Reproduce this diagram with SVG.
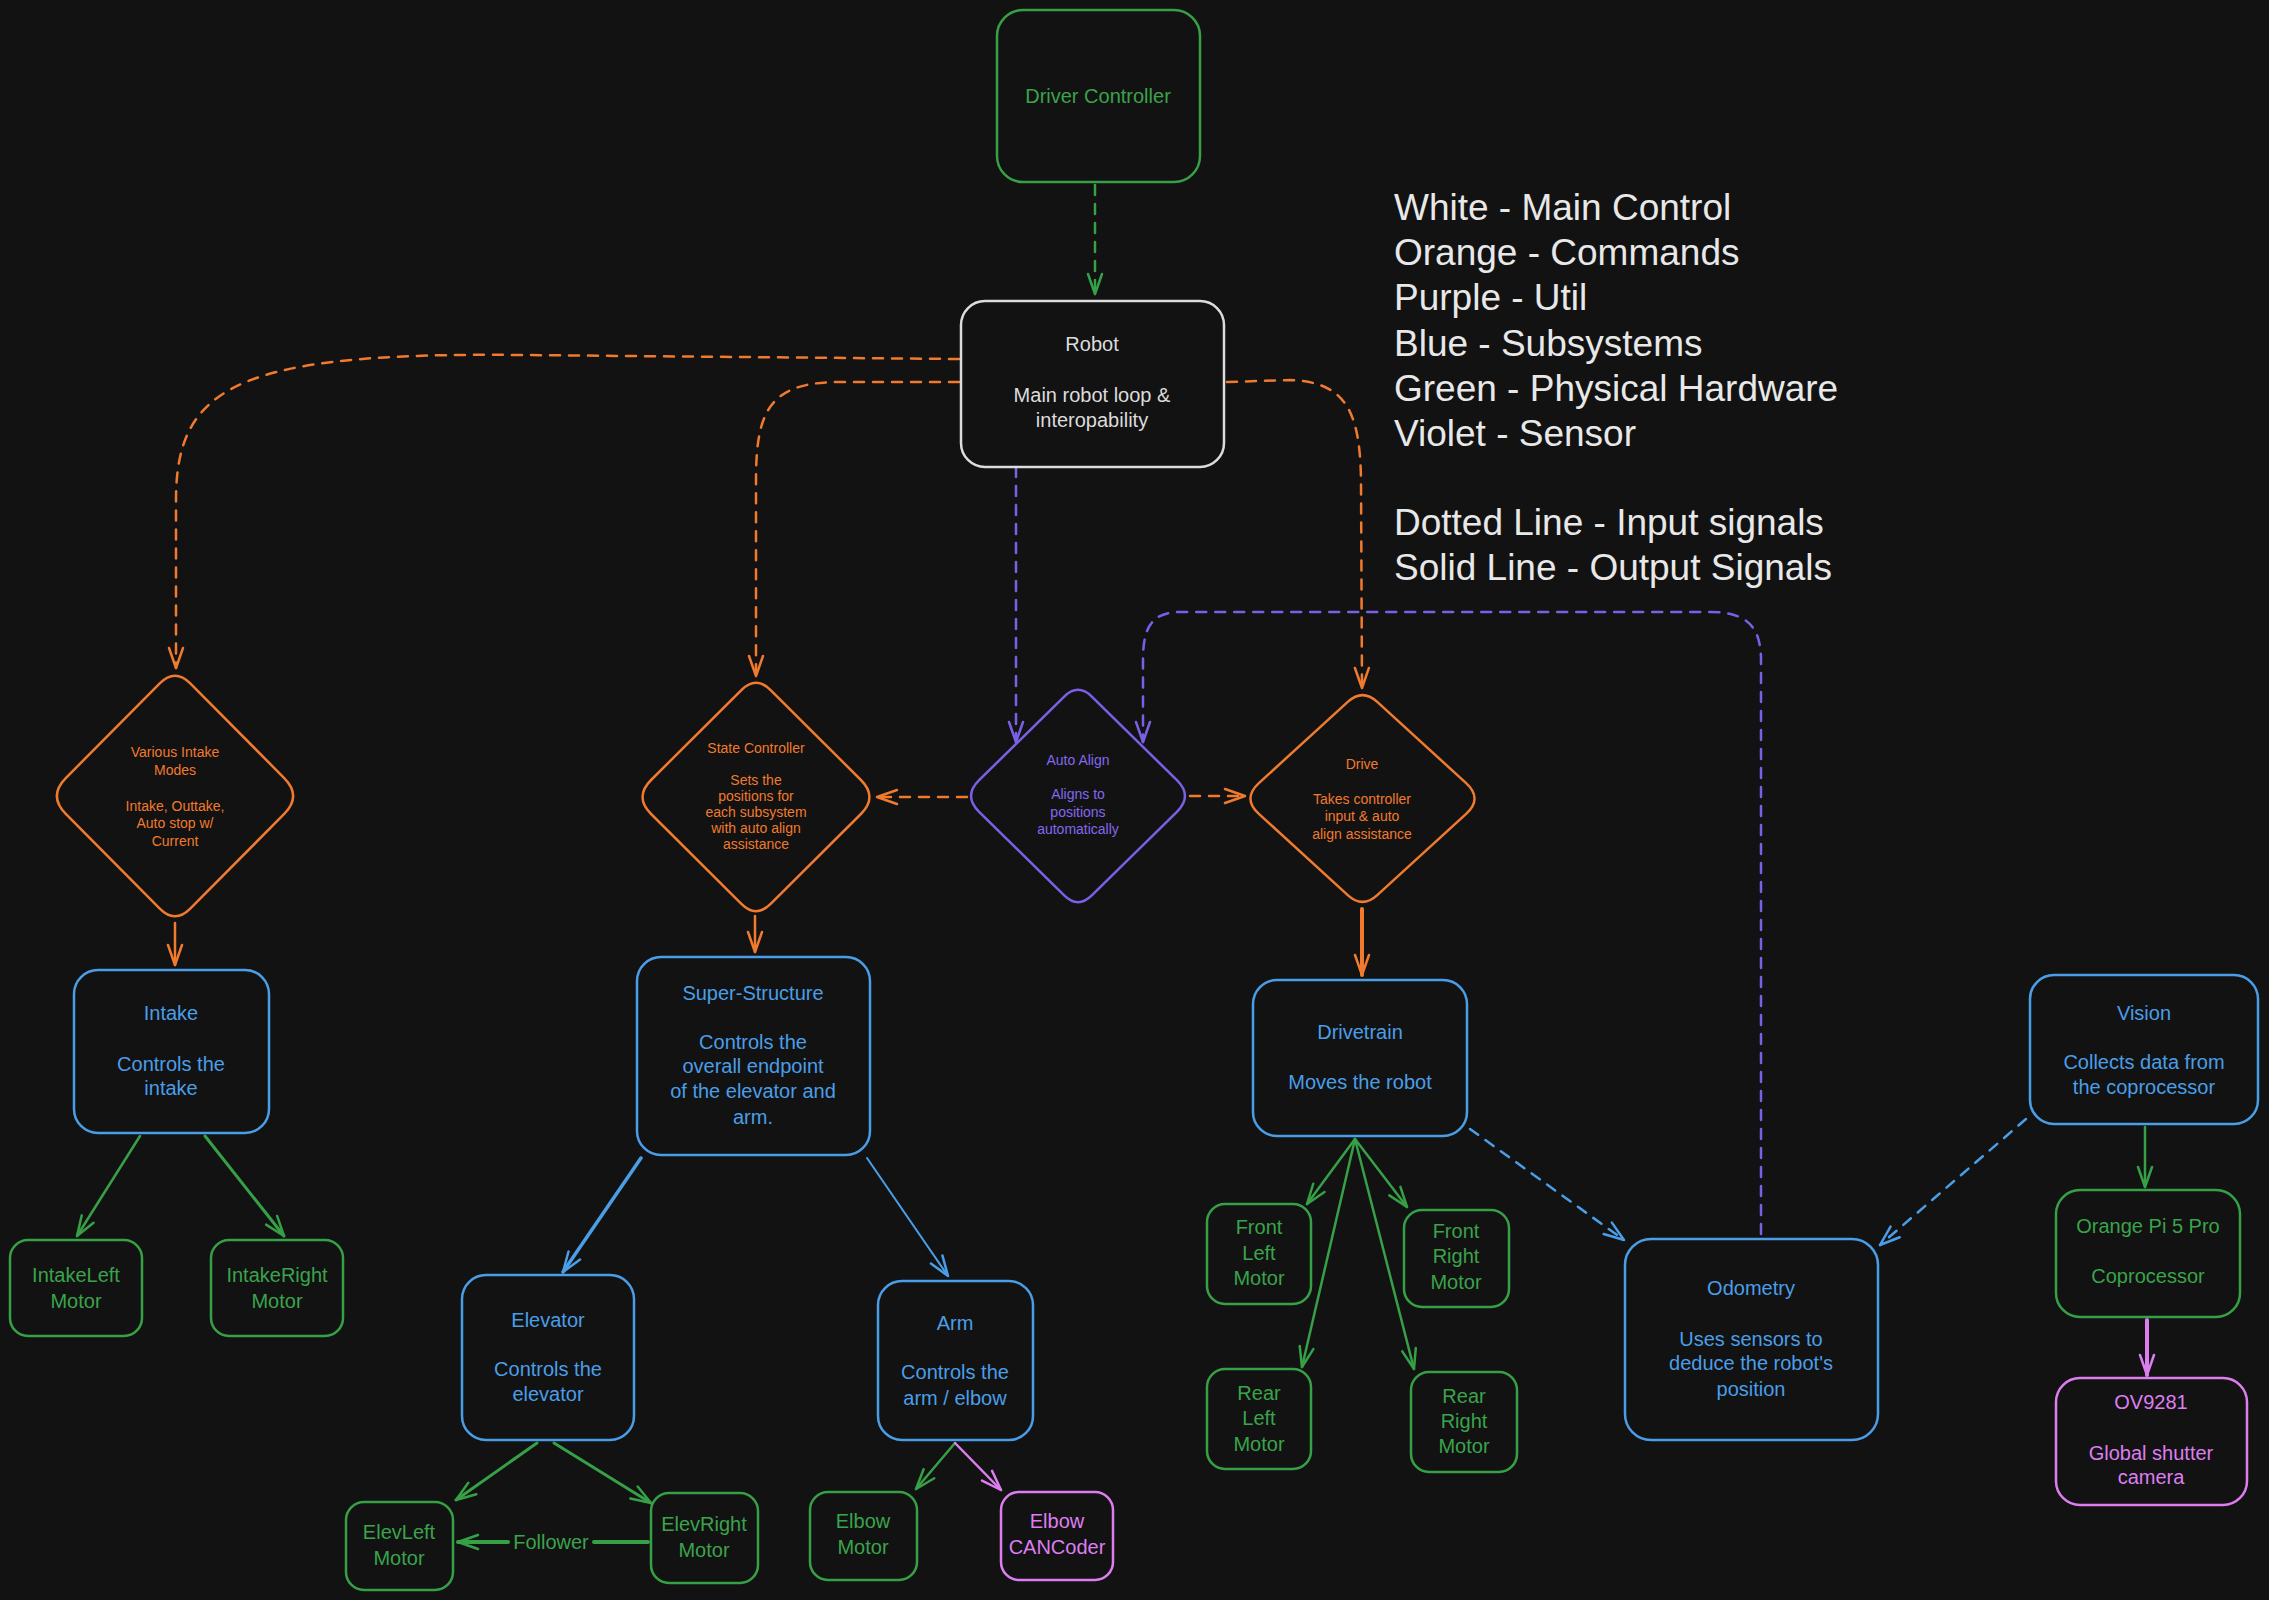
<svg xmlns="http://www.w3.org/2000/svg" width="2269" height="1600" viewBox="0 0 2269 1600">
<style>
text{font-family:"Liberation Sans",Arial,sans-serif;text-anchor:middle;dominant-baseline:central}
.t20{font-size:20px}
.t13{font-size:14px}
.leg{font-size:37px;text-anchor:start;fill:#e8e8e8}
.bx{fill:none;stroke-width:2.5}
.dia{fill:none;stroke-width:2.5;vector-effect:non-scaling-stroke}
.cn{fill:none;stroke-width:2.5;stroke-linecap:round}
.d{stroke-dasharray:10 9}
.cW{stroke:#dcdcdc}.fW{fill:#dcdcdc}
.cG{stroke:#36a046}.fG{fill:#3aa34b}
.cO{stroke:#f07a2e}.fO{fill:#f07a2e}
.cB{stroke:#4a9ee8}.fB{fill:#4a9ee8}
.cP{stroke:#7b5fe6}.fP{fill:#8468ee}
.cK{stroke:#dd7ef0}.fK{fill:#dd7ef0}
</style>
<defs>
<marker id="aO" markerUnits="userSpaceOnUse" markerWidth="24" markerHeight="18" viewBox="0 0 24 18" refX="22" refY="9" orient="auto"><path d="M2,2 L22,9 L2,16" fill="none" stroke="#f07a2e" stroke-width="2.5" stroke-dasharray="none" stroke-linecap="round" stroke-linejoin="round"/></marker>
<marker id="aG" markerUnits="userSpaceOnUse" markerWidth="24" markerHeight="18" viewBox="0 0 24 18" refX="22" refY="9" orient="auto"><path d="M2,2 L22,9 L2,16" fill="none" stroke="#36a046" stroke-width="2.5" stroke-dasharray="none" stroke-linecap="round" stroke-linejoin="round"/></marker>
<marker id="aB" markerUnits="userSpaceOnUse" markerWidth="24" markerHeight="18" viewBox="0 0 24 18" refX="22" refY="9" orient="auto"><path d="M2,2 L22,9 L2,16" fill="none" stroke="#4a9ee8" stroke-width="2.5" stroke-dasharray="none" stroke-linecap="round" stroke-linejoin="round"/></marker>
<marker id="aP" markerUnits="userSpaceOnUse" markerWidth="24" markerHeight="18" viewBox="0 0 24 18" refX="22" refY="9" orient="auto"><path d="M2,2 L22,9 L2,16" fill="none" stroke="#7b5fe6" stroke-width="2.5" stroke-dasharray="none" stroke-linecap="round" stroke-linejoin="round"/></marker>
<marker id="aK" markerUnits="userSpaceOnUse" markerWidth="24" markerHeight="18" viewBox="0 0 24 18" refX="22" refY="9" orient="auto"><path d="M2,2 L22,9 L2,16" fill="none" stroke="#dd7ef0" stroke-width="2.5" stroke-dasharray="none" stroke-linecap="round" stroke-linejoin="round"/></marker>
</defs>
<rect x="0" y="0" width="2269" height="1600" fill="#121212"/>

<g id="connectors">
<path class="cn cG d" d="M1095,185 L1095,294" marker-end="url(#aG)"/>
<path class="cn cO d" d="M959,359 L520,355 C240,352 176,385 176,500 L176,668" marker-end="url(#aO)"/>
<path class="cn cO d" d="M959,382 L840,382 C770,382 756,410 756,480 L756,676" marker-end="url(#aO)"/>
<path class="cn cO d" d="M1227,382 L1290,380 C1345,382 1360,410 1361,480 L1362,688" marker-end="url(#aO)"/>
<path class="cn cP d" d="M1016,467 L1016,742" marker-end="url(#aP)"/>
<path class="cn cP d" d="M1761,1234 L1761,660 C1761,625 1745,612 1710,612 L1180,612 C1150,612 1143,630 1143,660 L1143,742" marker-end="url(#aP)"/>
<path class="cn cO d" d="M967,797 L877,797" marker-end="url(#aO)"/>
<path class="cn cO d" d="M1190,796 L1245,796" marker-end="url(#aO)"/>
<path class="cn cO" d="M175,923 L175,965" marker-end="url(#aO)"/>
<path class="cn cO" d="M755,916 L755,952" marker-end="url(#aO)"/>
<path class="cn cO" style="stroke-width:4" d="M1362,909 L1362,975" marker-end="url(#aO)"/>
<path class="cn cG" d="M140,1136 L77,1236" marker-end="url(#aG)"/>
<path class="cn cG" style="stroke-width:3" d="M205,1136 L284,1236" marker-end="url(#aG)"/>
<path class="cn cB" style="stroke-width:3.5" d="M641,1158 L563,1272" marker-end="url(#aB)"/>
<path class="cn cB" style="stroke-width:2" d="M867,1158 L948,1276" marker-end="url(#aB)"/>
<path class="cn cG" style="stroke-width:3" d="M537,1443 L456,1500" marker-end="url(#aG)"/>
<path class="cn cG" style="stroke-width:3" d="M554,1443 L651,1503" marker-end="url(#aG)"/>
<path class="cn cG" style="stroke-width:4" d="M648,1542 L594,1542 M508,1542 L458,1542" marker-end="url(#aG)"/>
<text x="551" y="1542" class="t20 fG">Follower</text>
<path class="cn cG" d="M955,1443 L916,1489" marker-end="url(#aG)"/>
<path class="cn cK" d="M955,1443 L1001,1490" marker-end="url(#aK)"/>
<path class="cn cG" d="M1355,1139 L1307,1204" marker-end="url(#aG)"/>
<path class="cn cG" d="M1355,1139 L1407,1207" marker-end="url(#aG)"/>
<path class="cn cG" d="M1355,1139 L1302,1367" marker-end="url(#aG)"/>
<path class="cn cG" d="M1355,1139 L1414,1369" marker-end="url(#aG)"/>
<path class="cn cB d" d="M1470,1129 L1624,1240" marker-end="url(#aB)"/>
<path class="cn cB d" d="M2026,1119 L1880,1245" marker-end="url(#aB)"/>
<path class="cn cG" d="M2145,1127 L2145,1187" marker-end="url(#aG)"/>
<path class="cn cK" style="stroke-width:4" d="M2147,1320 L2147,1375" marker-end="url(#aK)"/>
</g>

<g id="driver-controller"><rect x="997" y="10" width="203" height="172" rx="26" class="bx cG"/><text x="1098" y="96" class="t20 fG">Driver Controller</text></g>
<g id="robot"><rect x="961" y="301" width="263" height="166" rx="24" class="bx cW"/><text x="1092" y="344" class="t20 fW">Robot</text><text x="1092" y="395" class="t20 fW">Main robot loop &amp;</text><text x="1092" y="420" class="t20 fW">interopability</text></g>

<g id="legend">
<text x="1394" y="207" class="leg">White - Main Control</text>
<text x="1394" y="252" class="leg">Orange - Commands</text>
<text x="1394" y="297" class="leg">Purple - Util</text>
<text x="1394" y="343" class="leg">Blue - Subsystems</text>
<text x="1394" y="388" class="leg">Green - Physical Hardware</text>
<text x="1394" y="433" class="leg">Violet - Sensor</text>
<text x="1394" y="522" class="leg">Dotted Line - Input signals</text>
<text x="1394" y="567" class="leg">Solid Line - Output Signals</text>
</g>

<g id="intake-modes"><path class="dia cO" transform="translate(175,796) scale(127,128)" d="M0.12,-0.88 L0.86,-0.14 Q1,0 0.86,0.14 L0.12,0.88 Q0,1 -0.12,0.88 L-0.86,0.14 Q-1,0 -0.86,-0.14 L-0.12,-0.88 Q0,-1 0.12,-0.88 Z"/>
<text x="175" y="752" class="t13 fO">Various Intake</text><text x="175" y="770" class="t13 fO">Modes</text><text x="175" y="806" class="t13 fO">Intake, Outtake,</text><text x="175" y="823" class="t13 fO">Auto stop w/</text><text x="175" y="841" class="t13 fO">Current</text></g>

<g id="state-controller"><path class="dia cO" transform="translate(756,797) scale(122,121.5)" d="M0.12,-0.88 L0.86,-0.14 Q1,0 0.86,0.14 L0.12,0.88 Q0,1 -0.12,0.88 L-0.86,0.14 Q-1,0 -0.86,-0.14 L-0.12,-0.88 Q0,-1 0.12,-0.88 Z"/>
<text x="756" y="748" class="t13 fO">State Controller</text><text x="756" y="780" class="t13 fO">Sets the</text><text x="756" y="796" class="t13 fO">positions for</text><text x="756" y="812" class="t13 fO">each subsystem</text><text x="756" y="828" class="t13 fO">with auto align</text><text x="756" y="844" class="t13 fO">assistance</text></g>

<g id="auto-align"><path class="dia cP" transform="translate(1078,796) scale(115,113)" d="M0.12,-0.88 L0.86,-0.14 Q1,0 0.86,0.14 L0.12,0.88 Q0,1 -0.12,0.88 L-0.86,0.14 Q-1,0 -0.86,-0.14 L-0.12,-0.88 Q0,-1 0.12,-0.88 Z"/>
<text x="1078" y="760" class="t13 fP">Auto Align</text><text x="1078" y="794" class="t13 fP">Aligns to</text><text x="1078" y="812" class="t13 fP">positions</text><text x="1078" y="829" class="t13 fP">automatically</text></g>

<g id="drive"><path class="dia cO" transform="translate(1362.5,798.5) scale(120.5,110)" d="M0.12,-0.88 L0.86,-0.14 Q1,0 0.86,0.14 L0.12,0.88 Q0,1 -0.12,0.88 L-0.86,0.14 Q-1,0 -0.86,-0.14 L-0.12,-0.88 Q0,-1 0.12,-0.88 Z"/>
<text x="1362" y="764" class="t13 fO">Drive</text><text x="1362" y="799" class="t13 fO">Takes controller</text><text x="1362" y="816" class="t13 fO">input &amp; auto</text><text x="1362" y="834" class="t13 fO">align assistance</text></g>

<g id="intake"><rect x="74" y="970" width="195" height="163" rx="24" class="bx cB"/><text x="171" y="1013" class="t20 fB">Intake</text><text x="171" y="1064" class="t20 fB">Controls the</text><text x="171" y="1088" class="t20 fB">intake</text></g>
<g id="super-structure"><rect x="637" y="957" width="233" height="198" rx="24" class="bx cB"/><text x="753" y="993" class="t20 fB">Super-Structure</text><text x="753" y="1042" class="t20 fB">Controls the</text><text x="753" y="1066" class="t20 fB">overall endpoint</text><text x="753" y="1091" class="t20 fB">of the elevator and</text><text x="753" y="1117" class="t20 fB">arm.</text></g>
<g id="drivetrain"><rect x="1253" y="980" width="214" height="156" rx="24" class="bx cB"/><text x="1360" y="1032" class="t20 fB">Drivetrain</text><text x="1360" y="1082" class="t20 fB">Moves the robot</text></g>
<g id="vision"><rect x="2030" y="975" width="228" height="149" rx="24" class="bx cB"/><text x="2144" y="1013" class="t20 fB">Vision</text><text x="2144" y="1062" class="t20 fB">Collects data from</text><text x="2144" y="1087" class="t20 fB">the coprocessor</text></g>

<g id="intake-left"><rect x="10" y="1240" width="132" height="96" rx="18" class="bx cG"/><text x="76" y="1275" class="t20 fG">IntakeLeft</text><text x="76" y="1301" class="t20 fG">Motor</text></g>
<g id="intake-right"><rect x="211" y="1240" width="132" height="96" rx="18" class="bx cG"/><text x="277" y="1275" class="t20 fG">IntakeRight</text><text x="277" y="1301" class="t20 fG">Motor</text></g>

<g id="elevator"><rect x="462" y="1275" width="172" height="165" rx="24" class="bx cB"/><text x="548" y="1320" class="t20 fB">Elevator</text><text x="548" y="1369" class="t20 fB">Controls the</text><text x="548" y="1394" class="t20 fB">elevator</text></g>
<g id="arm"><rect x="878" y="1281" width="155" height="159" rx="24" class="bx cB"/><text x="955" y="1323" class="t20 fB">Arm</text><text x="955" y="1372" class="t20 fB">Controls the</text><text x="955" y="1398" class="t20 fB">arm / elbow</text></g>

<g id="elev-left"><rect x="346" y="1502" width="107" height="88" rx="18" class="bx cG"/><text x="399" y="1532" class="t20 fG">ElevLeft</text><text x="399" y="1558" class="t20 fG">Motor</text></g>
<g id="elev-right"><rect x="651" y="1493" width="107" height="90" rx="18" class="bx cG"/><text x="704" y="1524" class="t20 fG">ElevRight</text><text x="704" y="1550" class="t20 fG">Motor</text></g>
<g id="elbow-motor"><rect x="810" y="1492" width="107" height="88" rx="18" class="bx cG"/><text x="863" y="1521" class="t20 fG">Elbow</text><text x="863" y="1547" class="t20 fG">Motor</text></g>
<g id="elbow-cancoder"><rect x="1001" y="1492" width="112" height="88" rx="18" class="bx cK"/><text x="1057" y="1521" class="t20 fK">Elbow</text><text x="1057" y="1547" class="t20 fK">CANCoder</text></g>

<g id="front-left"><rect x="1207" y="1204" width="104" height="100" rx="18" class="bx cG"/><text x="1259" y="1227" class="t20 fG">Front</text><text x="1259" y="1253" class="t20 fG">Left</text><text x="1259" y="1278" class="t20 fG">Motor</text></g>
<g id="front-right"><rect x="1404" y="1210" width="105" height="97" rx="18" class="bx cG"/><text x="1456" y="1231" class="t20 fG">Front</text><text x="1456" y="1256" class="t20 fG">Right</text><text x="1456" y="1282" class="t20 fG">Motor</text></g>
<g id="rear-left"><rect x="1207" y="1369" width="104" height="100" rx="18" class="bx cG"/><text x="1259" y="1393" class="t20 fG">Rear</text><text x="1259" y="1418" class="t20 fG">Left</text><text x="1259" y="1444" class="t20 fG">Motor</text></g>
<g id="rear-right"><rect x="1411" y="1372" width="106" height="100" rx="18" class="bx cG"/><text x="1464" y="1396" class="t20 fG">Rear</text><text x="1464" y="1421" class="t20 fG">Right</text><text x="1464" y="1446" class="t20 fG">Motor</text></g>

<g id="odometry"><rect x="1625" y="1239" width="253" height="201" rx="26" class="bx cB"/><text x="1751" y="1288" class="t20 fB">Odometry</text><text x="1751" y="1339" class="t20 fB">Uses sensors to</text><text x="1751" y="1363" class="t20 fB">deduce the robot's</text><text x="1751" y="1389" class="t20 fB">position</text></g>
<g id="orange-pi"><rect x="2056" y="1190" width="184" height="127" rx="24" class="bx cG"/><text x="2148" y="1226" class="t20 fG">Orange Pi 5 Pro</text><text x="2148" y="1276" class="t20 fG">Coprocessor</text></g>
<g id="ov9281"><rect x="2056" y="1378" width="191" height="127" rx="24" class="bx cK"/><text x="2151" y="1402" class="t20 fK">OV9281</text><text x="2151" y="1453" class="t20 fK">Global shutter</text><text x="2151" y="1477" class="t20 fK">camera</text></g>
</svg>
